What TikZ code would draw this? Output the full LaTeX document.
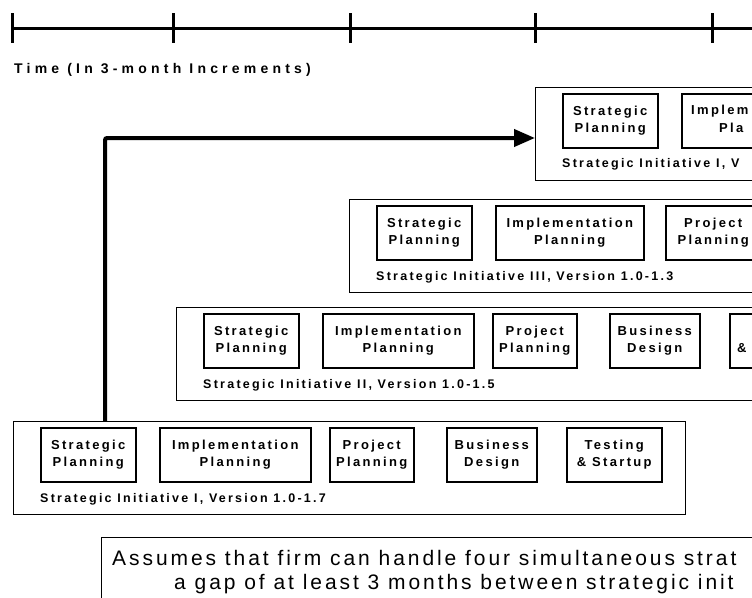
\documentclass[tikz,border=0pt]{standalone}
\usepackage{fontspec}
\setmainfont{Liberation Sans}
\newfontfamily\boxfont[LetterSpace=18]{Liberation Sans}
\newfontfamily\labelfont[LetterSpace=18]{Liberation Sans}
\newfontfamily\timefont[LetterSpace=30]{Liberation Sans}
\newfontfamily\notefont[LetterSpace=14]{Liberation Sans}
\usetikzlibrary{arrows.meta}

\begin{document}
\begin{tikzpicture}[x=1pt,y=-1pt,
  outerbox/.style={draw, line width=1.2pt, minimum height=93pt, inner sep=0pt, anchor=north west},
  stepbox/.style={draw, line width=1.5pt, minimum height=54pt, inner sep=0pt, anchor=north west,
    align=center, font=\boxfont\bfseries\fontsize{13}{16.5}\selectfont},
  steptext/.style={inner sep=0pt, anchor=west, font=\boxfont\bfseries\fontsize{13}{16.5}\selectfont},
  initlabel/.style={inner sep=0pt, anchor=west, font=\labelfont\bfseries\fontsize{12.5}{15}\selectfont},
  timelabel/.style={inner sep=0pt, anchor=west, font=\timefont\bfseries\fontsize{14}{16}\selectfont},
  notebox/.style={draw, line width=1.2pt, minimum width=700pt, minimum height=100pt, inner sep=0pt, anchor=north west},
  notetext/.style={inner sep=0pt, anchor=base west, font=\notefont\fontsize{21}{24}\selectfont},
  timeline/.style={line width=3pt},
  flow/.style={line width=4pt, rounded corners=2pt, -{Triangle[length=21pt,width=17pt]}}
]
\useasboundingbox (0,0) rectangle (752,597);
\clip (0,0) rectangle (752,597);

% time axis with quarterly ticks
\draw[timeline] (12,28) -- (770,28);
\foreach \t in {12,173,350,535,712}
  \draw[timeline] (\t,13) -- (\t,43);
\node[timelabel] (timelbl) at (14,70) {Time (In 3-month Increments)};

% Strategic Initiative I, first cycle
\node[outerbox, minimum width=672pt] (si1) at (13,421) {};
\node[stepbox, minimum width=95pt]  (a1) at (40,427)  {Strategic\\Planning};
\node[stepbox, minimum width=151pt] (a2) at (159,427) {Implementation\\Planning};
\node[stepbox, minimum width=84pt]  (a3) at (329,427) {Project\\Planning};
\node[stepbox, minimum width=90pt]  (a4) at (446,427) {Business\\Design};
\node[stepbox, minimum width=95pt]  (a5) at (566,427) {Testing\\\& Startup};
\node[initlabel] (l1) at (40,499) {Strategic Initiative I, Version 1.0-1.7};

% Strategic Initiative II
\node[outerbox, minimum width=620pt] (si2) at (176,307) {};
\node[stepbox, minimum width=95pt]  (b1) at (203,313) {Strategic\\Planning};
\node[stepbox, minimum width=151pt] (b2) at (322,313) {Implementation\\Planning};
\node[stepbox, minimum width=84pt]  (b3) at (492,313) {Project\\Planning};
\node[stepbox, minimum width=90pt]  (b4) at (609,313) {Business\\Design};
\node[stepbox, minimum width=95pt]  (b5) at (729,313) {};
\node[steptext] (b5t) at (737,348) {\&};
\node[initlabel] (l2) at (203,385) {Strategic Initiative II, Version 1.0-1.5};

% Strategic Initiative III
\node[outerbox, minimum width=440pt] (si3) at (349,199) {};
\node[stepbox, minimum width=95pt]  (c1) at (376,205) {Strategic\\Planning};
\node[stepbox, minimum width=148pt] (c2) at (495,205) {Implementation\\Planning};
\node[stepbox, minimum width=95pt]  (c3) at (665,205) {Project\\Planning};
\node[initlabel] (l3) at (376,277) {Strategic Initiative III, Version 1.0-1.3};

% Strategic Initiative I, next cycle
\node[outerbox, minimum width=260pt] (si4) at (535,87) {};
\node[stepbox, minimum width=95pt]  (d1) at (562,93) {Strategic\\Planning};
\node[stepbox, minimum width=151pt] (d2) at (681,93) {};
\node[steptext] (d2a) at (691,111) {Implem};
\node[steptext] (d2b) at (719,128) {Pla};
\node[initlabel] (l4) at (562,164) {Strategic Initiative I, V};

% hand-off from the first cycle to the next one
\draw[flow] ([xshift=92pt]si1.north west) |- ([yshift=-51pt]si4.north west);

% assumption note
\node[notebox] (note) at (101,537) {};
\node[notetext] (n1) at (112,565) {Assumes that firm can handle four simultaneous strat};
\node[notetext] (n2) at (174,589) {a gap of at least 3 months between strategic init};
\end{tikzpicture}
\end{document}
